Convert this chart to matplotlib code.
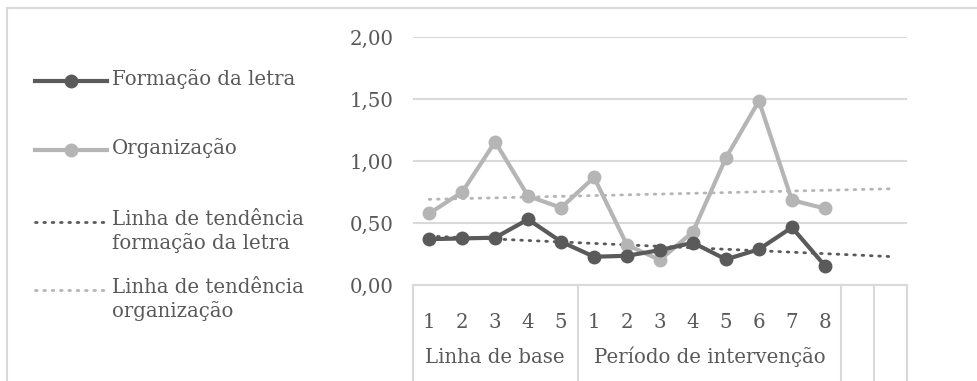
import numpy as np
import matplotlib
matplotlib.use("Agg")
import matplotlib.pyplot as plt
from matplotlib.lines import Line2D
from matplotlib.transforms import blended_transform_factory

plt.rcParams['font.family'] = ['DejaVu Serif']

# data
sessions = [1, 2, 3, 4, 5, 1, 2, 3, 4, 5, 6, 7, 8]
formacao = [0.37, 0.376, 0.382, 0.53, 0.35, 0.228, 0.236, 0.282, 0.341, 0.207, 0.288, 0.465, 0.156]
organizacao = [0.578, 0.75, 1.156, 0.718, 0.624, 0.869, 0.323, 0.202, 0.43, 1.027, 1.486, 0.685, 0.618]
phases = ['Linha de base', 'Período de intervenção']
phase_sizes = [5, 8]
n_cats = 15  # two empty categories at the end
yticks = [0.0, 0.5, 1.0, 1.5, 2.0]

dark = '#5a5a5a'
light = '#b5b5b5'
grid_c = '#d9d9d9'
txt_c = '#595959'
fs = 14.2

W, H = 977, 381
fig = plt.figure(figsize=(W / 100, H / 100), dpi=100)
ax = fig.add_axes([412.7 / W, 1 - 285 / H, (907.3 - 412.7) / W, (285 - 37.3) / H])

x = np.arange(1, len(formacao) + 1)
x_trend = np.arange(1, n_cats + 1)

# trend lines (linear fit, extended over all categories)
for vals, c in [(formacao, dark), (organizacao, light)]:
    k, b = np.polyfit(x, vals, 1)
    ax.plot(x_trend, k * x_trend + b, color=c, lw=2.0,
            linestyle=(0, (0.6, 2.4)), dash_capstyle='round', zorder=2)

ax.plot(x, organizacao, color=light, lw=3, marker='o', ms=9, zorder=3)
ax.plot(x, formacao, color=dark, lw=3, marker='o', ms=9, zorder=4)

ax.set_xlim(0.5, n_cats + 0.5)
ax.set_ylim(0, 2)
ax.set_yticks(yticks)
ax.set_yticklabels([f'{v:.2f}'.replace('.', ',') for v in yticks])
ax.yaxis.grid(True, color=grid_c, lw=1.5)
ax.set_axisbelow(True)
for s in ['top', 'right', 'left']:
    ax.spines[s].set_visible(False)
ax.spines['bottom'].set_color(grid_c)
ax.spines['bottom'].set_linewidth(1.5)

ax.set_xticks(x_trend)
ax.set_xticklabels([str(s) for s in sessions] + [''] * (n_cats - len(sessions)))
ax.tick_params(axis='both', length=0, labelsize=fs, labelcolor=txt_c)
ax.tick_params(axis='y', pad=14)
ax.tick_params(axis='x', pad=20)

# multi-level category axis
tr = blended_transform_factory(ax.transData, ax.transAxes)
bounds = [0.5]
for size in phase_sizes:
    bounds.append(bounds[-1] + size)
bounds += [bounds[-1] + 1, bounds[-1] + 2]
for bx in bounds:
    ax.plot([bx, bx], [0, -0.45], color=grid_c, lw=1.5, transform=tr, clip_on=False)
for i, name in enumerate(phases):
    cx = (bounds[i] + bounds[i + 1]) / 2
    ax.text(cx, -0.291, name, transform=tr, ha='center', va='center',
            fontsize=fs, color=txt_c)

# legend drawn by hand
def fy(py):
    return 1 - py / H

legend_items = [
    ('Formação da letra', dark, '-', 'o', 81),
    ('Organização', light, '-', 'o', 150),
    ('Linha de tendência\nformação da letra', dark, ':', None, 222),
    ('Linha de tendência\norganização', light, ':', None, 290),
]
for label, c, ls, mk, py in legend_items:
    if ls == '-':
        fig.add_artist(Line2D([35 / W, 107 / W], [fy(py), fy(py)], color=c, lw=3,
                              transform=fig.transFigure))
        fig.add_artist(Line2D([71 / W], [fy(py)], color=c, marker=mk, ms=9,
                              transform=fig.transFigure))
    else:
        fig.add_artist(Line2D([35 / W, 107 / W], [fy(py), fy(py)], color=c, lw=2.0,
                              linestyle=(0, (0.6, 2.4)), dash_capstyle='round',
                              transform=fig.transFigure))
    fig.text(112 / W, fy(py - 12), label, ha='left', va='top', fontsize=fs,
             color=txt_c, linespacing=1.25)

# outer chart border
fig.add_artist(Line2D([6.5 / W, 6.5 / W], [0, fy(8)], color=grid_c, lw=1.5,
                      transform=fig.transFigure))
fig.add_artist(Line2D([6.5 / W, 1], [fy(8), fy(8)], color=grid_c, lw=1.5,
                      transform=fig.transFigure))

fig.savefig('out.png', dpi=100)
